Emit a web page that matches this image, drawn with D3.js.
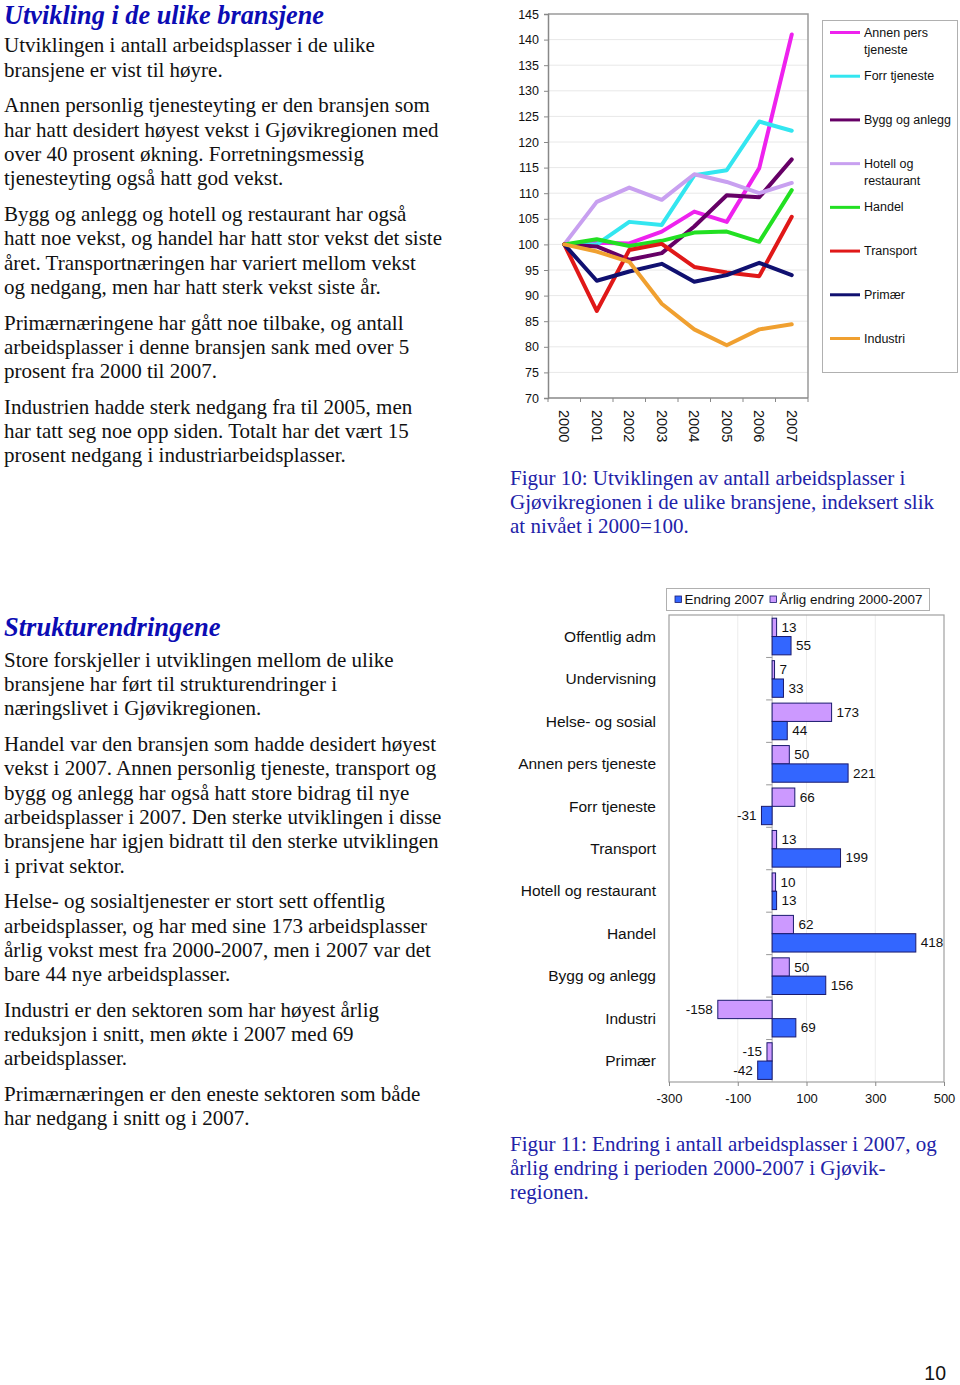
<!DOCTYPE html>
<html><head><meta charset="utf-8">
<script src="https://cdn.jsdelivr.net/npm/d3@7"></script>
<style>body{margin:0;background:#fff}svg{display:block}</style>
</head><body>
<svg id="page" width="960" height="1385"></svg>
<script>
// ---------- DATA ----------
const years = ['2000','2001','2002','2003','2004','2005','2006','2007'];
const seriesNames = ['Annen pers tjeneste','Forr tjeneste','Bygg og anlegg','Hotell og restaurant','Handel','Transport','Primær','Industri'];
const annenPers   = [100,100.3,100.2,102.5,106.4,104.4,114.9,141.0];
const forrTjeneste= [100,100.0,104.4,103.8,113.5,114.5,124.0,122.2];
const byggAnlegg  = [100, 99.6, 97.0, 98.3,103.5,109.6,109.2,116.6];
const hotellRest  = [100,108.3,111.1,108.7,113.7,112.2,110.0,112.0];
const handel      = [100,101.0, 99.7,100.7,102.3,102.5,100.5,110.6];
const transport   = [100, 87.0, 98.9,100.1, 95.6, 94.5, 93.8,105.4];
const primaer     = [100, 92.9, 94.7, 96.2, 92.7, 94.0, 96.4, 94.0];
const industri    = [100, 98.6, 96.6, 88.4, 83.4, 80.3, 83.4, 84.4];
const lineTicks = [70,75,80,85,90,95,100,105,110,115,120,125,130,135,140,145];
const legendLabels = [['Annen pers','tjeneste'],['Forr tjeneste'],['Bygg og anlegg'],['Hotell og','restaurant'],['Handel'],['Transport'],['Primær'],['Industri']];

const barCategories = ['Offentlig adm','Undervisning','Helse- og sosial','Annen pers tjeneste','Forr tjeneste','Transport','Hotell og restaurant','Handel','Bygg og anlegg','Industri','Primær'];
const arligEndring = [13,7,173,50,66,13,10,62,50,-158,-15];
const endring2007  = [55,33,44,221,-31,199,13,418,156,69,-42];
const barTicks = [-300,-100,100,300,500];
const barLegend = ['Endring 2007','Årlig endring 2000-2007'];

const title1 = 'Utvikling i de ulike bransjene';
const paras1 = [
 ['Utviklingen i antall arbeidsplasser i de ulike','bransjene er vist til høyre.'],
 ['Annen personlig tjenesteyting er den bransjen som','har hatt desidert høyest vekst i Gjøvikregionen med','over 40 prosent økning. Forretningsmessig','tjenesteyting også hatt god vekst.'],
 ['Bygg og anlegg og hotell og restaurant har også','hatt noe vekst, og handel har hatt stor vekst det siste','året. Transportnæringen har variert mellom vekst','og nedgang, men har hatt sterk vekst siste år.'],
 ['Primærnæringene har gått noe tilbake, og antall','arbeidsplasser i denne bransjen sank med over 5','prosent fra 2000 til 2007.'],
 ['Industrien hadde sterk nedgang fra til 2005, men','har tatt seg noe opp siden. Totalt har det vært 15','prosent nedgang i industriarbeidsplasser.']
];
const caption1 = ['Figur 10: Utviklingen av antall arbeidsplasser i','Gjøvikregionen i de ulike bransjene, indeksert slik','at nivået i 2000=100.'];
const title2 = 'Strukturendringene';
const paras2 = [
 ['Store forskjeller i utviklingen mellom de ulike','bransjene har ført til strukturendringer i','næringslivet i Gjøvikregionen.'],
 ['Handel var den bransjen som hadde desidert høyest','vekst i 2007. Annen personlig tjeneste, transport og','bygg og anlegg har også hatt store bidrag til nye','arbeidsplasser i 2007. Den sterke utviklingen i disse','bransjene har igjen bidratt til den sterke utviklingen','i privat sektor.'],
 ['Helse- og sosialtjenester er stort sett offentlig','arbeidsplasser, og har med sine 173 arbeidsplasser','årlig vokst mest fra 2000-2007, men i 2007 var det','bare 44 nye arbeidsplasser.'],
 ['Industri er den sektoren som har høyest årlig','reduksjon i snitt, men økte i 2007 med 69','arbeidsplasser.'],
 ['Primærnæringen er den eneste sektoren som både','har nedgang i snitt og i 2007.']
];
const caption2 = ['Figur 11: Endring i antall arbeidsplasser i 2007, og','årlig endring i perioden 2000-2007 i Gjøvik-','regionen.'];
const pageNumber = '10';

// ---------- STYLE ----------
const serif = "'Liberation Serif','Times New Roman',serif";
const sans = "'Liberation Sans',Arial,sans-serif";
const titleBlue = '#0c0cb4';
const capBlue = '#2222a8';
const lineColors = ['#ee22ee','#33e6f0','#660066','#c8a0f0','#22e022','#e01818','#101070','#f0a030'];

const svg = d3.select('#page');
svg.append('rect').attr('width',960).attr('height',1385).attr('fill','#fff');

// ---------- TEXT ----------
function textBlock(x, y0, paras, lh, gap, opts){
  let y = y0;
  paras.forEach((p,pi)=>{
    p.forEach(line=>{
      svg.append('text').attr('x',x).attr('y',y).text(line)
        .attr('font-family',serif).attr('font-size',opts.size).attr('fill',opts.fill);
      y += lh;
    });
    y += gap;
  });
}
svg.append('text').attr('x',4).attr('y',23.5).text(title1)
  .attr('font-family',serif).attr('font-size',26.3).attr('font-weight','bold').attr('font-style','italic').attr('fill',titleBlue);
textBlock(4, 52.3, paras1, 24.3, 11.4, {size:21, fill:'#111'});
textBlock(510, 485, [caption1], 24.2, 0, {size:21, fill:capBlue});

svg.append('text').attr('x',4).attr('y',636).text(title2)
  .attr('font-family',serif).attr('font-size',26.5).attr('font-weight','bold').attr('font-style','italic').attr('fill',titleBlue);
textBlock(4, 666.7, paras2, 24.3, 11.4, {size:21, fill:'#111'});
textBlock(510, 1151, [caption2], 24.2, 0, {size:21, fill:capBlue});

svg.append('text').attr('x',946).attr('y',1380).attr('text-anchor','end').text(pageNumber)
  .attr('font-family',sans).attr('font-size',19.5).attr('fill','#111');

// ---------- LINE CHART ----------
const L = {left:548, right:808, top:14, bottom:398};
const xL = d3.scaleBand().domain(years).range([L.left, L.right]);
const yL = d3.scaleLinear().domain([70,145]).range([L.bottom, L.top]);
const gL = svg.append('g');
gL.selectAll('line.grid').data(lineTicks.filter(t=>t>70 && t<145)).join('line')
  .attr('x1',L.left).attr('x2',L.right).attr('y1',d=>yL(d)).attr('y2',d=>yL(d))
  .attr('stroke','#e8e8e8').attr('stroke-width',1);
gL.append('path').attr('d',`M${L.left},${L.top}H${L.right}V${L.bottom}`)
  .attr('fill','none').attr('stroke','#9a9a9a').attr('stroke-width',1.5);
const yAx = gL.append('g').attr('transform',`translate(${L.left},0)`)
  .call(d3.axisLeft(yL).tickValues(lineTicks).tickSize(4).tickPadding(5));
yAx.select('.domain').attr('stroke','#888').attr('stroke-width',1.5);
yAx.selectAll('.tick line').attr('stroke','#888');
yAx.selectAll('text').attr('font-family',sans).attr('font-size',12.5).attr('fill','#111');
gL.append('line').attr('x1',L.left).attr('x2',L.right).attr('y1',L.bottom).attr('y2',L.bottom)
  .attr('stroke','#888').attr('stroke-width',1.5);
const bounds = years.map(d=>xL(d)).concat([L.right]);
gL.selectAll('line.xt').data(bounds).join('line')
  .attr('x1',d=>d).attr('x2',d=>d).attr('y1',L.bottom).attr('y2',L.bottom+4)
  .attr('stroke','#888');
gL.selectAll('text.xl').data(years).join('text')
  .attr('transform',d=>`translate(${xL(d)+xL.bandwidth()/2},${L.bottom+12}) rotate(90)`)
  .attr('dominant-baseline','central').attr('text-anchor','start')
  .attr('font-family',sans).attr('font-size',14.5).attr('fill','#111').text(d=>d);
const allSeries = [annenPers, forrTjeneste, byggAnlegg, hotellRest, handel, transport, primaer, industri];
const lineGen = d3.line().x((d,i)=>xL(years[i])+xL.bandwidth()/2).y(d=>yL(d));
allSeries.forEach((s,i)=>{
  gL.append('path').datum(s).attr('d',lineGen).attr('fill','none')
    .attr('stroke',lineColors[i]).attr('stroke-width',4).attr('stroke-linejoin','round').attr('stroke-linecap','round');
});
const lg = svg.append('g');
lg.append('rect').attr('x',822.5).attr('y',20.5).attr('width',135).attr('height',352)
  .attr('fill','#fff').attr('stroke','#b0b0b0');
const legY = d3.scaleLinear().domain([0,7]).range([32.5,338.5]);
legendLabels.forEach((lab,i)=>{
  const y = legY(i);
  lg.append('line').attr('x1',830).attr('x2',860).attr('y1',y).attr('y2',y)
    .attr('stroke',lineColors[i]).attr('stroke-width',3);
  lab.forEach((t,j)=>{
    lg.append('text').attr('x',864).attr('y',y+j*17).attr('dominant-baseline','central')
      .attr('font-family',sans).attr('font-size',12.5).attr('fill','#111').text(t);
  });
});

// ---------- BAR CHART ----------
const B = {left:669, right:944, top:615, bottom:1082};
const xB = d3.scaleLinear().domain([-300,500]).range([B.left, B.right]);
const yB = d3.scaleBand().domain(barCategories).range([B.top, B.bottom]);
const sub = d3.scaleBand().domain(['arlig','endring']).range([3.2, yB.bandwidth()-2.6]);
const gB = svg.append('g');
gB.selectAll('line.vg').data([-100,100,300]).join('line')
  .attr('x1',d=>xB(d)).attr('x2',d=>xB(d)).attr('y1',B.top).attr('y2',B.bottom)
  .attr('stroke','#ececec');
gB.append('rect').attr('x',B.left).attr('y',B.top).attr('width',B.right-B.left).attr('height',B.bottom-B.top)
  .attr('fill','none').attr('stroke','#a0a0a0').attr('stroke-width',1.2);
const xAxB = gB.append('g').attr('transform',`translate(0,${B.bottom})`)
  .call(d3.axisBottom(xB).tickValues(barTicks).tickSize(4).tickPadding(8).tickFormat(d=>String(d)));
xAxB.select('.domain').remove();
xAxB.selectAll('.tick line').attr('stroke','#888');
xAxB.selectAll('text').attr('font-family',sans).attr('font-size',13).attr('fill','#111');
gB.append('line').attr('x1',xB(0)).attr('x2',xB(0)).attr('y1',B.top).attr('y2',B.bottom).attr('stroke','#b0b0b0');
gB.selectAll('line.ct').data(barCategories.slice(1)).join('line')
  .attr('x1',xB(0)-6).attr('x2',xB(0)).attr('y1',d=>yB(d)).attr('y2',d=>yB(d)).attr('stroke','#999');
gB.selectAll('text.cat').data(barCategories).join('text')
  .attr('x',656).attr('y',d=>yB(d)+yB.bandwidth()/2).attr('text-anchor','end').attr('dominant-baseline','central')
  .attr('font-family',sans).attr('font-size',15.5).attr('fill','#111').text(d=>d);
const barData = [];
barCategories.forEach((c,i)=>{
  barData.push({c, k:'arlig', v:arligEndring[i]});
  barData.push({c, k:'endring', v:endring2007[i]});
});
const barFill = {arlig:'#cc99ff', endring:'#3366ff'};
gB.selectAll('rect.bar').data(barData).join('rect')
  .attr('x',d=>xB(Math.min(0,d.v))).attr('width',d=>Math.abs(xB(d.v)-xB(0)))
  .attr('y',d=>yB(d.c)+sub(d.k)).attr('height',sub.bandwidth())
  .attr('fill',d=>barFill[d.k]).attr('stroke','#1a1a6e').attr('stroke-width',1);
gB.selectAll('text.val').data(barData).join('text')
  .attr('x',d=>d.v>=0 ? xB(d.v)+5 : xB(d.v)-5)
  .attr('text-anchor',d=>d.v>=0?'start':'end')
  .attr('y',d=>yB(d.c)+sub(d.k)+sub.bandwidth()/2).attr('dominant-baseline','central')
  .attr('font-family',sans).attr('font-size',13.5).attr('fill','#111').text(d=>String(d.v));
const bl = svg.append('g');
bl.append('rect').attr('x',666.5).attr('y',588.5).attr('width',263).attr('height',22)
  .attr('fill','#fff').attr('stroke','#b0b0b0');
const blItems = [{t:barLegend[0], f:barFill.endring, x:675},{t:barLegend[1], f:barFill.arlig, x:770}];
blItems.forEach(it=>{
  bl.append('rect').attr('x',it.x).attr('y',596).attr('width',6.5).attr('height',6.5)
    .attr('fill',it.f).attr('stroke','#1a1a6e').attr('stroke-width',0.8);
  bl.append('text').attr('x',it.x+9.5).attr('y',599.5).attr('dominant-baseline','central')
    .attr('font-family',sans).attr('font-size',13.4).attr('fill','#111').text(it.t);
});
</script>
</body></html>
